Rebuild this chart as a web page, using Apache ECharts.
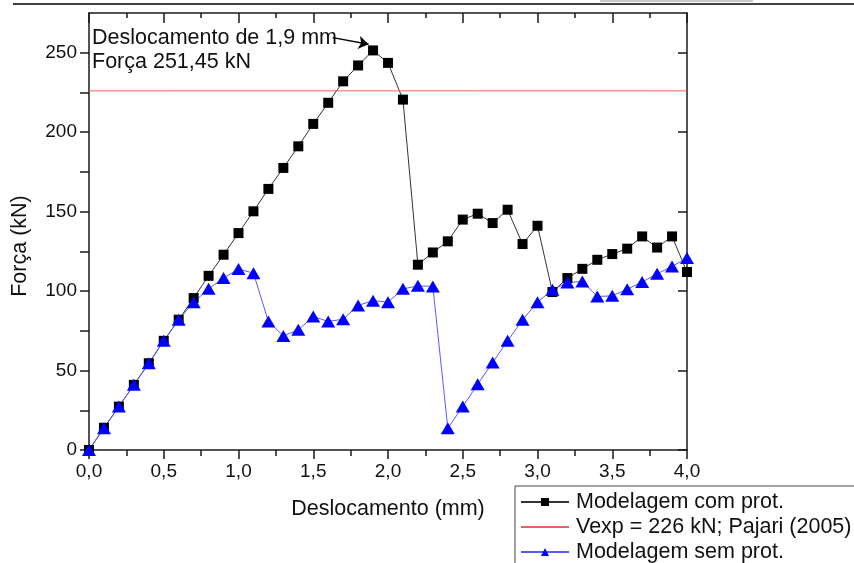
<!DOCTYPE html>
<html>
<head>
<meta charset="utf-8">
<script src="https://cdn.jsdelivr.net/npm/echarts@6/dist/echarts.min.js"></script>
<style>
  html, body { margin: 0; padding: 0; background: #fff; }
  #chart { width: 854px; height: 563px; }
</style>
</head>
<body>
<div id="chart"></div>
<script>
// deslocamento (mm)
const deslocamento = [0, 0.1, 0.2, 0.3, 0.4, 0.5, 0.6, 0.7, 0.8, 0.9, 1.0, 1.1, 1.2, 1.3, 1.4, 1.5, 1.6, 1.7, 1.8, 1.9, 2.0,
    2.1, 2.2, 2.3, 2.4, 2.5, 2.6, 2.7, 2.8, 2.9, 3.0, 3.1, 3.2, 3.3, 3.4, 3.5, 3.6, 3.7, 3.8, 3.9, 4.0];

// força (kN)
const comProt = [0, 14, 27.3, 41, 54.6, 68.7, 82, 95.6, 109.6, 122.9, 136.5, 150.2, 164.3, 177.5, 191.1, 205.2, 218.5, 232, 242, 251.45, 243.6,
    220.5, 116.6, 124.3, 131.3, 145, 148.7, 142.8, 151.2, 129.6, 141.1, 99.4, 108.2, 114, 119.7, 123.3, 126.7, 134.4, 127.4, 134.4, 112];
const semProt = [0, 13.7, 27.3, 41, 54.6, 68.7, 82, 93, 101.4, 108.2, 113.9, 111.3, 80.9, 71.8, 75.6, 84, 80.9, 82.3, 91, 94, 93,
    101.4, 103.3, 102.9, 13.7, 27.3, 41.4, 55, 68.7, 81.9, 93, 100.8, 105.4, 106, 96.6, 97, 101.2, 105.7, 110.9, 115.5, 120.8];
const vexp = 226;

const xTickLabels = ['0,0', '0,5', '1,0', '1,5', '2,0', '2,5', '3,0', '3,5', '4,0'];
const yTickValues = [0, 50, 100, 150, 200, 250];
const yMinorValues = [25, 75, 125, 175, 225];

// anotação da seta (coordenadas do gráfico)
const setaDe = [1.63, 259.5];
const setaPara = [1.87, 255.3];

const font = 'Liberation Sans';
const axisColor = '#1a1a1a';

const dom = document.getElementById('chart');
const myChart = echarts.init(dom);

const pares = (ys) => deslocamento.map((x, i) => [x, ys[i]]);

const option = {
    animation: false,
    backgroundColor: '#fff',
    grid: { left: 89, right: 167, top: 13, bottom: 113 },
    xAxis: [
        {
            type: 'value', position: 'bottom', min: 0, max: 4, interval: 0.5,
            name: 'Deslocamento (mm)', nameLocation: 'middle', nameGap: 48,
            nameTextStyle: { fontFamily: font, fontSize: 21.5, color: '#111' },
            axisLine: { show: true, onZero: false, lineStyle: { color: axisColor, width: 1.5 } },
            axisTick: { show: true, inside: false, length: 9, lineStyle: { color: axisColor, width: 1.5 } },
            minorTick: { show: true, splitNumber: 2, length: 6, lineStyle: { color: axisColor, width: 1.5 } },
            splitLine: { show: false },
            axisLabel: {
                margin: 12, fontFamily: font, fontSize: 19, color: '#111',
                formatter: (v) => xTickLabels[Math.round(v / 0.5)] || ''
            }
        },
        {
            type: 'value', position: 'top', min: 0, max: 4, interval: 0.5,
            axisLine: { show: true, onZero: false, lineStyle: { color: axisColor, width: 1.5 } },
            axisTick: { show: true, inside: true, length: 10, lineStyle: { color: axisColor, width: 1.5 } },
            minorTick: { show: true, splitNumber: 2, length: 5, lineStyle: { color: axisColor, width: 1.5 } },
            splitLine: { show: false },
            axisLabel: { show: false }
        }
    ],
    yAxis: [
        {
            type: 'value', position: 'left', min: 0, max: 275,
            axisLine: { show: true, onZero: false, lineStyle: { color: axisColor, width: 1.5 } },
            axisTick: {
                show: true, inside: false, length: 9,
                customValues: yTickValues.concat(yMinorValues),
                lineStyle: { color: axisColor, width: 1.5 }
            },
            splitLine: { show: false },
            axisLabel: { margin: 12, fontFamily: font, fontSize: 19, color: '#111', customValues: yTickValues }
        },
        {
            type: 'value', position: 'right', min: 0, max: 275,
            axisLine: { show: true, onZero: false, lineStyle: { color: axisColor, width: 1.5 } },
            axisTick: {
                show: true, inside: true, length: 9, customValues: yTickValues,
                lineStyle: { color: axisColor, width: 1.5 }
            },
            splitLine: { show: false },
            axisLabel: { show: false }
        },
        {
            type: 'value', position: 'right', min: 0, max: 275,
            axisLine: { show: false },
            axisTick: {
                show: true, inside: true, length: 5, customValues: yMinorValues,
                lineStyle: { color: axisColor, width: 1.5 }
            },
            splitLine: { show: false },
            axisLabel: { show: false }
        }
    ],
    legend: {
        orient: 'vertical', left: 515, top: 486, height: 90,
        padding: [5, 30, 5, 5], itemGap: 3, itemWidth: 48, itemHeight: 10,
        borderColor: '#444', borderWidth: 1, borderRadius: 0, backgroundColor: '#fff',
        textStyle: { fontFamily: font, fontSize: 21.5, lineHeight: 21, color: '#111', padding: [0, 0, 0, 2] },
        data: [
            'Modelagem com prot.',
            { name: 'Vexp = 226 kN; Pajari (2005)', itemStyle: { opacity: 0 } },
            'Modelagem sem prot.'
        ]
    },
    series: [
        {
            name: 'Modelagem com prot.', type: 'line', data: pares(comProt),
            symbol: 'rect', symbolSize: 10,
            itemStyle: { color: '#000' },
            lineStyle: { color: '#333', width: 1 },
            markLine: {
                silent: true, symbol: ['none', 'arrow'], symbolSize: 10,
                label: { show: false },
                lineStyle: { color: '#000', width: 1.5, type: 'solid' },
                data: [[{ coord: setaDe }, { coord: setaPara }]]
            }
        },
        {
            name: 'Vexp = 226 kN; Pajari (2005)', type: 'line',
            data: [[0, vexp], [4, vexp]],
            symbol: 'none', itemStyle: { color: '#f06060' },
            lineStyle: { color: '#f06060', width: 1 }
        },
        {
            name: 'Modelagem sem prot.', type: 'line', data: pares(semProt),
            symbol: 'triangle', symbolSize: [14, 12],
            itemStyle: { color: '#0000ff' },
            lineStyle: { color: '#5a5aff', width: 1 }
        }
    ],
    graphic: [
        { type: 'rect', shape: { x: 600, y: 0, width: 153, height: 2 }, style: { fill: '#c8c8c8' }, silent: true },
        { type: 'line', shape: { x1: 13, y1: 4, x2: 854, y2: 4 }, style: { stroke: '#000', lineWidth: 1.5 }, silent: true },
        {
            type: 'text', x: 20, y: 246, rotation: Math.PI / 2,
            style: { text: 'Força (kN)', fontFamily: font, fontSize: 21.5, fill: '#111', align: 'center', verticalAlign: 'middle' }
        },
        {
            type: 'text', left: 92, top: 27,
            style: { text: 'Deslocamento de 1,9 mm', fontFamily: font, fontSize: 21.5, fill: '#111' }
        },
        {
            type: 'text', left: 92, top: 51,
            style: { text: 'Força 251,45 kN', fontFamily: font, fontSize: 21.5, fill: '#111' }
        }
    ]
};

option && typeof option === 'object' && myChart.setOption(option, true);
</script>
</body>
</html>
